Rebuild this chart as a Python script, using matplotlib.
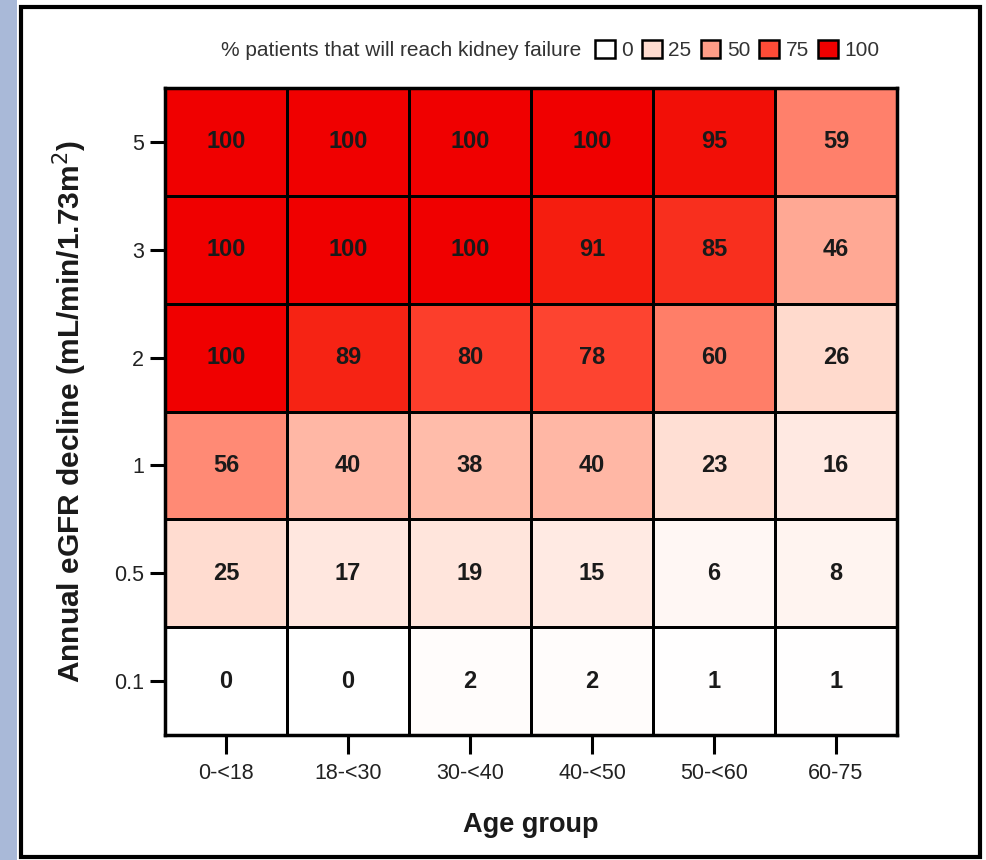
import matplotlib
matplotlib.use("Agg")
import matplotlib.pyplot as plt
import numpy as np
from matplotlib.colors import LinearSegmentedColormap
from matplotlib.patches import Rectangle, Patch

age_groups = ["0-<18", "18-<30", "30-<40", "40-<50", "50-<60", "60-75"]
egfr_decline = ["0.1", "0.5", "1", "2", "3", "5"]  # bottom to top
pct = [
    [0, 0, 2, 2, 1, 1],          # 0.1
    [25, 17, 19, 15, 6, 8],      # 0.5
    [56, 40, 38, 40, 23, 16],    # 1
    [100, 89, 80, 78, 60, 26],   # 2
    [100, 100, 100, 91, 85, 46], # 3
    [100, 100, 100, 100, 95, 59] # 5
]
legend_levels = [0, 25, 50, 75, 100]

FONT = ["Liberation Sans Narrow", "Liberation Sans", "DejaVu Sans"]
plt.rcParams["font.family"] = FONT

cmap = LinearSegmentedColormap.from_list(
    "kf", [(0.0, "#FFFFFF"), (0.25, "#FFDCD0"), (0.5, "#FF9E88"),
           (0.75, "#FF4D38"), (0.92, "#F41A0C"), (1.0, "#F00000")])

fig = plt.figure(figsize=(9.87, 8.6), dpi=100)
# screenshot background: blue strip and black frame
fig.patches.append(Rectangle((0, 0), 17/987, 1, transform=fig.transFigure,
                             facecolor="#A9B9D8", edgecolor="none", zorder=-10))
fig.patches.append(Rectangle((21/987, 3/860), (980-21)/987, (853-3)/860,
                             transform=fig.transFigure, facecolor="white",
                             edgecolor="black", linewidth=3, zorder=-10))

ax = fig.add_axes([165/987, 1-735/860, (897-165)/987, (735-88)/860])
ax.set_zorder(5)
data = np.array(pct, dtype=float)
ax.pcolormesh(data, cmap=cmap, vmin=0, vmax=100, edgecolors="black", linewidth=2)
for i in range(data.shape[0]):
    for j in range(data.shape[1]):
        ax.text(j + 0.5, i + 0.5, f"{int(data[i, j])}", ha="center", va="center",
                fontsize=17, fontweight="bold", color="#1a1a1a")

ax.set_xlim(0, len(age_groups))
ax.set_ylim(0, len(egfr_decline))
ax.set_xticks(np.arange(len(age_groups)) + 0.5)
ax.set_xticklabels(age_groups)
ax.set_yticks(np.arange(len(egfr_decline)) + 0.5)
ax.set_yticklabels(egfr_decline)
ax.tick_params(axis="both", width=2.2, labelsize=15.5, pad=4,
               labelcolor="#222222")
ax.tick_params(axis="x", length=14, pad=6)
ax.tick_params(axis="y", length=11)
for s in ax.spines.values():
    s.set_linewidth(2.5)
    s.set_color("black")

ax.set_xlabel("Age group", fontsize=19.5, fontweight="bold", labelpad=20,
              color="#1a1a1a")
ax.set_ylabel("Annual eGFR decline (mL/min/1.73m$^{2}$)", fontsize=21.5,
              fontweight="bold", labelpad=18, color="#1a1a1a")

fig.text(581/987, 1-50/860, "% patients that will reach kidney failure",
         ha="right", va="center", fontsize=15, color="#333333")
handles = [Patch(facecolor=cmap(v/100), edgecolor="black", linewidth=1.8)
           for v in legend_levels]
fig.legend(handles, [str(v) for v in legend_levels], loc="center left",
           bbox_to_anchor=(595/987, 1-50/860), ncol=5, frameon=False,
           fontsize=15, handlelength=0.95, handleheight=0.95, handletextpad=0.3,
           columnspacing=0.45, borderaxespad=0, borderpad=0,
           labelcolor="#333333")

fig.savefig("out.png", dpi=100)
